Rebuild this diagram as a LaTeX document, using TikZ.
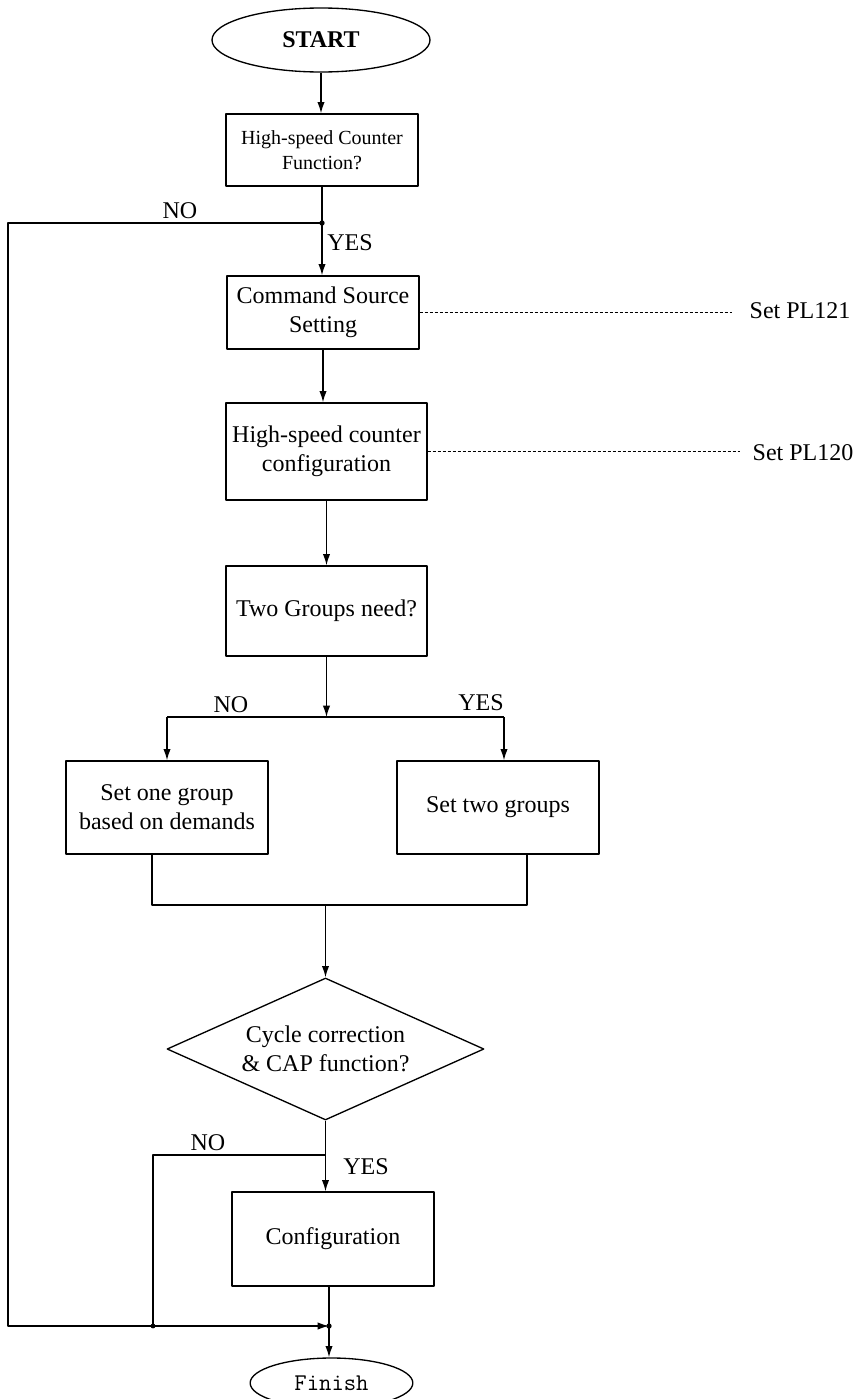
\documentclass[tikz,border=0pt]{standalone}
\usepackage{fontspec}
\setmainfont{Liberation Serif}
\usetikzlibrary{shapes.geometric,arrows.meta}
\begin{document}
\begin{tikzpicture}[x=0.75pt, y=-0.75pt, line width=1pt, line join=round, >={Latex[length=8.5pt,width=5.5pt]}, font=\fontsize{18}{21.75}\selectfont]
	\tikzset{box style/.style={draw, align=center, inner sep=0pt},
		term style/.style={draw, ellipse, inner sep=0pt},
		label style/.style={inner sep=0pt},
		dashed line/.style={dash pattern=on 2.25pt off 1.5pt, line width=0.8pt}}
	
	\def \xleft{8}
	\def \ybot{1326}
	\useasboundingbox (0,0) rectangle (858,1399);
	\node[term style, minimum width=163.5pt, minimum height=48pt, font=\fontsize{18}{21.75}\selectfont\bfseries] (start) at (321,40) {START};
	\node[box style, minimum width=144pt, minimum height=54pt, font=\fontsize{15}{18.75}\selectfont] (hscfunc) at (322,150) {High-speed Counter\\Function?};
	\node[box style, minimum width=144pt, minimum height=54.75pt] (cmdsrc) at (323,312.5) {Command Source\\Setting};
	\node[box style, minimum width=150.75pt, minimum height=72.75pt] (hscconf) at (326.5,451.5) {High-speed counter\\configuration};
	\node[box style, minimum width=150.75pt, minimum height=67.5pt] (twogrp) at (326.5,611) {Two Groups need?};
	\node[box style, minimum width=151.5pt, minimum height=69.75pt] (onegrp) at (167,807.5) {Set one group\\based on demands};
	\node[box style, minimum width=151.5pt, minimum height=69.75pt] (twoset) at (498,807.5) {Set two groups};
	\node[draw, diamond, aspect=2.23, inner sep=0pt, minimum width=237.75pt, minimum height=106.5pt, align=center] (cyccap) at (325.5,1049) {Cycle correction\\\& CAP function?};
	\node[box style, minimum width=151.5pt, minimum height=70.5pt] (config) at (333,1239) {Configuration};
	\node[term style, minimum width=122pt, minimum height=37.5pt, font=\ttfamily\fontsize{18}{21}\selectfont] (finish) at (331.5,1383) {Finish};
	
	\node[label style, anchor=west, inner xsep=12.75pt] (plcmd) at (732,311) {Set PL121};
	\node[label style, anchor=west, inner xsep=9pt] (plconf) at (740,453) {Set PL120};
	\draw[dashed line] (cmdsrc.east) -- (cmdsrc.east -| plcmd.west);
	\draw[dashed line] (hscconf.east) -- (hscconf.east -| plconf.west);
	
	\node[label style] (nofunc) at (180,211) {NO};
	\node[label style] (yesfunc) at (350,243) {YES};
	\node[label style] (nogrp) at (231,705) {NO};
	\node[label style] (yesgrp) at (481,703) {YES};
	\node[label style] (nocap) at (208,1143) {NO};
	\node[label style] (yescap) at (366,1167) {YES};
	
	\coordinate (jtop) at (hscfunc.south |- 0,223);
	\coordinate (split) at (twogrp.south |- 0,717);
	\coordinate (splitl) at (onegrp.north |- split);
	\coordinate (splitr) at (504,717);
	\coordinate (mergel) at (152,905);
	\coordinate (merger) at (527,905);
	\coordinate (jno) at (cyccap.south |- 0,1155);
	\coordinate (jbotl) at (153,\ybot);
	\coordinate (jbot) at (329,\ybot);
	
	\draw[->] (start.south) -- (start.south |- hscfunc.north);
	\draw[->] (hscfunc.south) -- (hscfunc.south |- cmdsrc.north);
	\draw[->] (cmdsrc.south) -- (cmdsrc.south |- hscconf.north);
	\draw[->] (hscconf.south) -- (hscconf.south |- twogrp.north);
	\draw[->] (twogrp.south) -- (split);
	\draw (splitl) -- (splitr);
	\draw[->] (splitl) -- (onegrp.north);
	\draw[->] (splitr) -- (splitr |- twoset.north);
	\draw (mergel |- onegrp.south) -- (mergel) -- (merger) -- (merger |- twoset.south);
	\draw[->] (cyccap.north |- mergel) -- (cyccap.north);
	\draw[->] (cyccap.south) -- (cyccap.south |- config.north);
	\draw (jno) -| (jbotl);
	\draw[->] (jtop) -| (\xleft,\ybot) -- (jbot);
	\draw[->] (jbot |- config.south) -- (jbot |- finish.north);
	\fill (jtop) circle (2pt);
	\fill (jbotl) circle (1.8pt);
	\fill (jbot) circle (2pt);
\end{tikzpicture}
\end{document}
